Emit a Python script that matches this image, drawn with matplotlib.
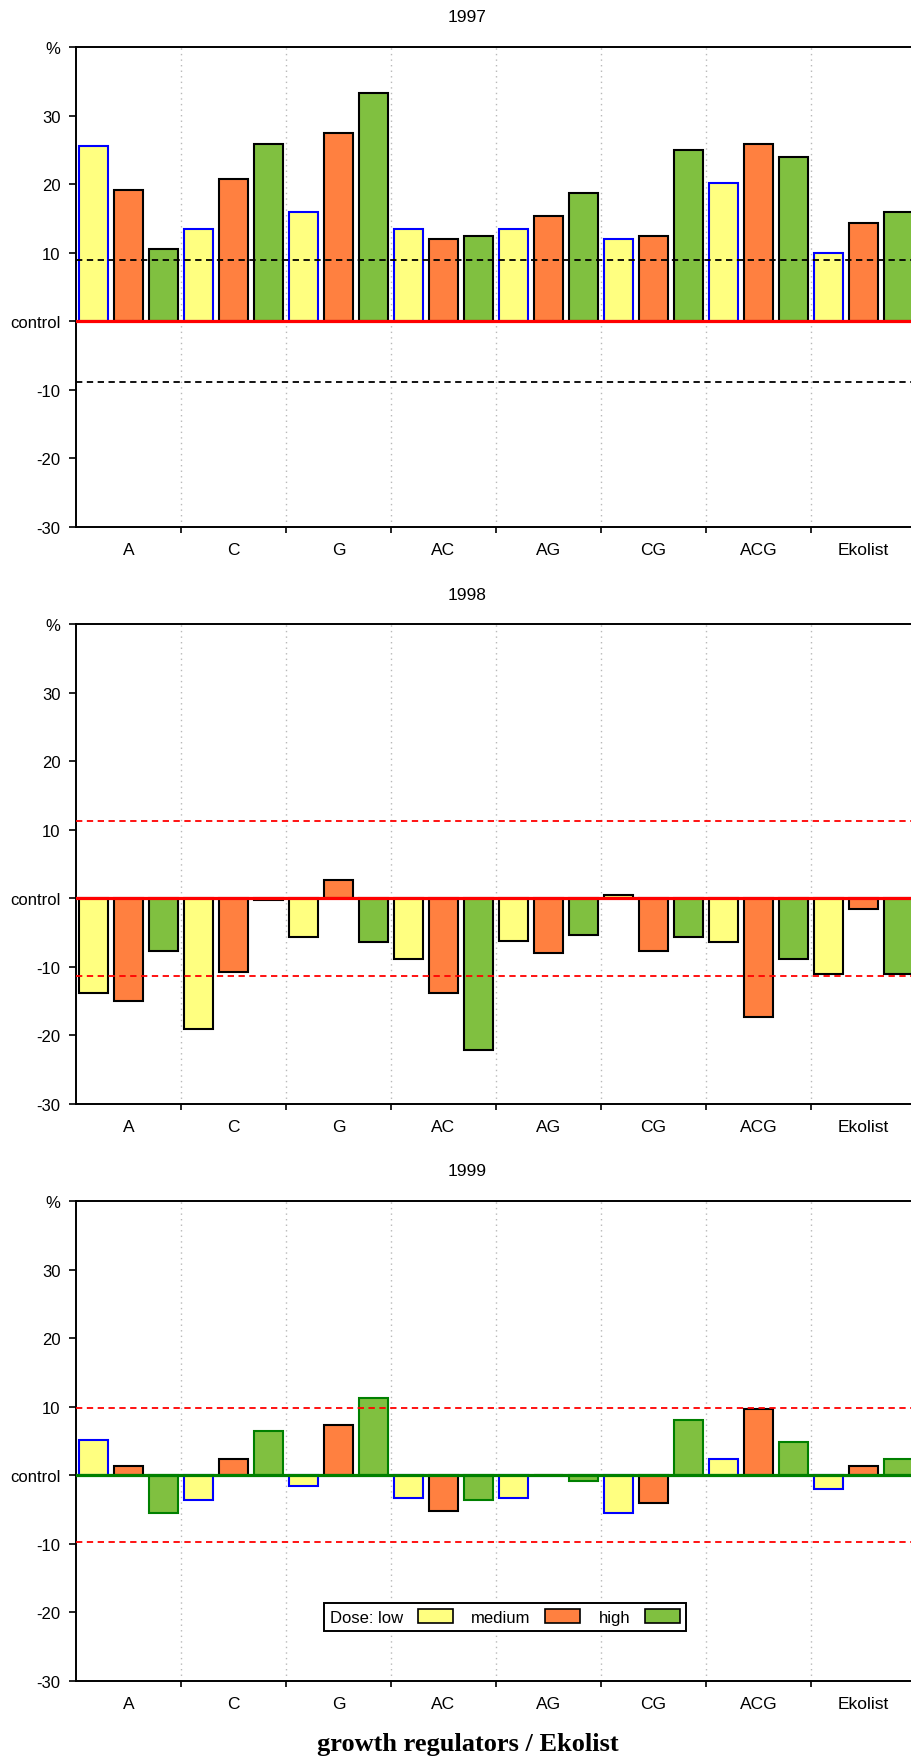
import numpy as np
import matplotlib
matplotlib.use('Agg')
import matplotlib.pyplot as plt
from matplotlib.patches import Patch

plt.rcParams['font.family'] = ['Liberation Sans', 'DejaVu Sans']

groups = ['A', 'C', 'G', 'AC', 'AG', 'CG', 'ACG', 'Ekolist']
years = ['1997', '1998', '1999']

# % difference from control, doses low / medium / high
low_1997 = [25.5, 13.5, 15.9, 13.4, 13.4, 12.0, 20.2, 10.0]
med_1997 = [19.1, 20.7, 27.4, 12.0, 15.4, 12.5, 25.9, 14.3]
high_1997 = [10.6, 25.9, 33.3, 12.5, 18.7, 25.0, 23.9, 15.9]

low_1998 = [-13.8, -19.1, -5.7, -8.8, -6.2, 0.5, -6.4, -11.0]
med_1998 = [-15.0, -10.8, 2.7, -13.8, -8.0, -7.7, -17.3, -1.5]
high_1998 = [-7.7, -0.3, -6.4, -22.1, -5.4, -5.6, -8.8, -11.0]

low_1999 = [5.2, -3.6, -1.6, -3.3, -3.3, -5.5, 2.4, -2.0]
med_1999 = [1.3, 2.4, 7.3, -5.2, 0.1, -4.1, 9.6, 1.3]
high_1999 = [-5.5, 6.4, 11.2, -3.6, -0.9, 8.0, 4.9, 2.4]

# LSD limits drawn as dashed lines
lsd = [8.9, 11.3, 9.8]

data = [(low_1997, med_1997, high_1997),
        (low_1998, med_1998, high_1998),
        (low_1999, med_1999, high_1999)]

fill_cols = ['#ffff80', '#ff8040', '#80c040']
edge_cols = [['#0000ff', 'black', 'black'],
             ['black', 'black', 'black'],
             ['#0000ff', 'black', '#008000']]
zero_cols = ['#ff0000', '#ff0000', '#008000']
lsd_cols = ['black', '#ff0000', '#ff0000']

W, H = 912, 1758
fig = plt.figure(figsize=(W / 100, H / 100), dpi=100)

ax_tops = [48, 625, 1202]
ax_h = 480
ax_left = 76
ax_w = 840

ng = len(groups)
for k in range(3):
    top = ax_tops[k]
    ax = fig.add_axes([ax_left / W, 1 - (top + ax_h) / H, ax_w / W, ax_h / H])

    # group separators
    for s in range(1, ng):
        ax.axvline(3 * s, color='#b8b8b8', lw=1.0, ls=(0, (1, 3)), zorder=0)

    for d in range(3):
        vals = data[k][d]
        xs = np.arange(ng) * 3 + d + 0.5
        ax.bar(xs, vals, width=0.83, color=fill_cols[d], edgecolor=edge_cols[k][d],
               linewidth=1.5, zorder=2)

    ax.axhline(lsd[k], color=lsd_cols[k], lw=1.3, ls=(0, (3.5, 2.5)), zorder=3)
    ax.axhline(-lsd[k], color=lsd_cols[k], lw=1.3, ls=(0, (3.5, 2.5)), zorder=3)
    ax.axhline(0, color=zero_cols[k], lw=2.3, zorder=4)

    ax.set_xlim(0, 3 * ng)
    ax.set_ylim(-30, 40)
    ax.set_yticks([-30, -20, -10, 0, 10, 20, 30, 40])
    ax.set_yticklabels(['-30', '-20', '-10', 'control', '10', '20', '30', '%'], fontsize=12)
    ax.set_xticks(np.arange(1, ng) * 3)
    ax.set_xticklabels([])
    ax.set_xticks(np.arange(ng) * 3 + 1.5, minor=True)
    ax.set_xticklabels(groups, minor=True, fontsize=12.5)
    ax.tick_params(axis='x', which='minor', length=0, pad=11)
    ax.tick_params(axis='x', which='major', length=4, width=1.2, direction='out')
    ax.tick_params(axis='y', length=5, width=1.2, pad=6)
    for sp in ['left', 'top', 'bottom']:
        ax.spines[sp].set_linewidth(1.4)
    ax.spines['right'].set_visible(False)

    fig.text(467 / W, 1 - (top - 30) / H, years[k], ha='center', va='center', fontsize=12.5)

    if k == 2:
        handles = [Patch(facecolor=c, edgecolor='black', linewidth=1.2) for c in fill_cols]
        leg = fig.legend(handles, ['Dose: low', 'medium', 'high'], ncol=3, markerfirst=False,
                         loc='center', bbox_to_anchor=(505 / W, 1 - 1618 / H),
                         fontsize=12, fancybox=False, edgecolor='black', framealpha=1,
                         handlelength=2.1, handleheight=0.9, handletextpad=0.9,
                         columnspacing=1.1, borderpad=0.35, borderaxespad=0)
        leg.get_frame().set_linewidth(1.4)

fig.text(468 / W, 1 - 1745 / H, 'growth regulators / Ekolist', ha='center', va='center',
         fontsize=19, fontweight='bold', family=['Liberation Serif', 'DejaVu Serif'])

fig.savefig('out.png', dpi=100)
